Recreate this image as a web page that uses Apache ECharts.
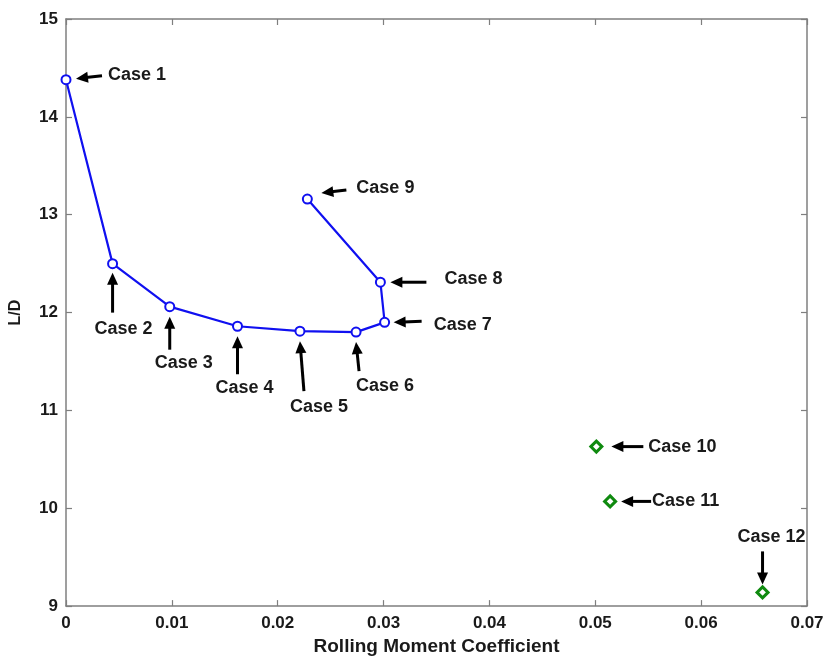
<!DOCTYPE html>
<html>
<head>
<meta charset="utf-8">
<script src="https://cdn.jsdelivr.net/npm/echarts@6/dist/echarts.min.js"></script>
<style>
html,body{margin:0;padding:0;background:#fff;}
#main{width:830px;height:661px;}
</style>
</head>
<body>
<div id="main"></div>
<script>
// ---- data ----
var caseNames = ['Case 1','Case 2','Case 3','Case 4','Case 5','Case 6','Case 7','Case 8','Case 9','Case 10','Case 11','Case 12'];
var blueX = [0, 0.0044, 0.0098, 0.0162, 0.0221, 0.0274, 0.0301, 0.0297, 0.0228];
var blueY = [14.38, 12.50, 12.06, 11.86, 11.81, 11.80, 11.90, 12.31, 13.16];
var greenX = [0.0501, 0.0514, 0.0658];
var greenY = [10.63, 10.07, 9.14];
var xTicks = [0, 0.01, 0.02, 0.03, 0.04, 0.05, 0.06, 0.07];
var yTicks = [9, 10, 11, 12, 13, 14, 15];

// ---- annotation layout (pixel offsets from each point: arrow tip, arrow tail, text) ----
var annoLayout = [
  {tip:[10,-1], tail:[36,-4], text:[42,-5,'left']},
  {tip:[0,9],   tail:[0,49],  text:[11,65,'center']},
  {tip:[0,10],  tail:[0,43],  text:[14,56,'center']},
  {tip:[0,10],  tail:[0,48],  text:[7,62,'center']},
  {tip:[0,10],  tail:[4,60],  text:[19,76,'center']},
  {tip:[0,10],  tail:[3,39],  text:[29,54,'center']},
  {tip:[9,0],   tail:[37,-1], text:[49,3,'left']},
  {tip:[10,0],  tail:[46,0],  text:[64,-3,'left']},
  {tip:[14,-6], tail:[39,-9], text:[49,-11,'left']},
  {tip:[15,0],  tail:[47,0],  text:[52,0,'left']},
  {tip:[11,0],  tail:[41,0],  text:[42,0,'left']},
  {tip:[0,-8],  tail:[0,-41], text:[9,-55,'center']}
];

var allX = blueX.concat(greenX);
var allY = blueY.concat(greenY);
var blueData = blueX.map(function(x,i){return [x, blueY[i]];});
var greenData = greenX.map(function(x,i){return [x, greenY[i]];});
var annoData = allX.map(function(x,i){return [x, allY[i], i];});

var FONT = 'Liberation Sans, Arial, sans-serif';
var axisColor = '#7f7f7f';
var textColor = '#1a1a1a';

function fmtX(v){ return v === 0 ? '0' : v.toFixed(2); }

var chart = echarts.init(document.getElementById('main'), null, {renderer:'canvas'});

var baseX = {
  type:'value', min:xTicks[0], max:xTicks[xTicks.length-1], interval:0.01,
  axisLine:{show:true, onZero:false, lineStyle:{color:axisColor, width:1.5}},
  axisTick:{show:true, inside:true, length:6, lineStyle:{color:axisColor, width:1.2}},
  splitLine:{show:false}
};
var baseY = {
  type:'value', min:yTicks[0], max:yTicks[yTicks.length-1], interval:1,
  axisLine:{show:true, onZero:false, lineStyle:{color:axisColor, width:1.5}},
  axisTick:{show:true, inside:true, length:6, lineStyle:{color:axisColor, width:1.2}},
  splitLine:{show:false}
};

var option = {
  backgroundColor:'#ffffff',
  animation:false,
  grid:{left:64, top:19, right:23, bottom:54, containLabel:false},
  xAxis:[
    Object.assign({}, baseX, {
      position:'bottom',
      name:'Rolling Moment Coefficient', nameLocation:'middle', nameGap:29,
      nameTextStyle:{fontFamily:FONT, fontWeight:'bold', fontSize:19, color:textColor},
      axisLabel:{show:true, margin:9, formatter:fmtX, fontFamily:FONT, fontWeight:'bold', fontSize:17, color:textColor}
    }),
    Object.assign({}, baseX, {position:'top', axisLabel:{show:false}})
  ],
  yAxis:[
    Object.assign({}, baseY, {
      position:'left',
      name:'L/D', nameLocation:'middle', nameGap:42, nameRotate:90,
      nameTextStyle:{fontFamily:FONT, fontWeight:'bold', fontSize:16, color:textColor},
      axisLabel:{show:true, margin:8, fontFamily:FONT, fontWeight:'bold', fontSize:17, color:textColor}
    }),
    Object.assign({}, baseY, {position:'right', axisLabel:{show:false}})
  ],
  series:[
    {
      type:'line', xAxisIndex:0, yAxisIndex:0,
      data:blueData,
      symbol:'emptyCircle', symbolSize:9,
      lineStyle:{color:'#1010f0', width:2.2},
      itemStyle:{color:'#1010f0', borderWidth:2},
      z:3
    },
    {
      type:'scatter', xAxisIndex:0, yAxisIndex:0,
      data:greenData,
      symbol:'diamond', symbolSize:11,
      itemStyle:{color:'#ffffff', borderColor:'#0f8a0f', borderWidth:3, opacity:1},
      z:3
    },
    {
      type:'custom', xAxisIndex:0, yAxisIndex:0,
      data:annoData, clip:false, silent:true, z:4,
      renderItem:function(params, api){
        var idx = api.value(2);
        var p = api.coord([api.value(0), api.value(1)]);
        var L = annoLayout[idx];
        var tip = [p[0]+L.tip[0], p[1]+L.tip[1]];
        var tail = [p[0]+L.tail[0], p[1]+L.tail[1]];
        var dx = tip[0]-tail[0], dy = tip[1]-tail[1];
        var len = Math.sqrt(dx*dx+dy*dy);
        var ux = dx/len, uy = dy/len;
        var hl = 12, hw = 5.5;
        var base = [tip[0]-ux*hl, tip[1]-uy*hl];
        var head = [
          tip,
          [base[0]-uy*hw, base[1]+ux*hw],
          [base[0]+uy*hw, base[1]-ux*hw]
        ];
        return {
          type:'group',
          children:[
            {type:'line', shape:{x1:tail[0], y1:tail[1], x2:base[0]+ux*2, y2:base[1]+uy*2},
             style:{stroke:'#000', lineWidth:3}},
            {type:'polygon', shape:{points:head}, style:{fill:'#000'}},
            {type:'text', x:p[0]+L.text[0], y:p[1]+L.text[1],
             style:{text:caseNames[idx], fill:textColor, font:'bold 18px ' + FONT,
                    textAlign:L.text[2], textVerticalAlign:'middle'}}
          ]
        };
      }
    }
  ]
};
chart.setOption(option);
</script>
</body>
</html>
